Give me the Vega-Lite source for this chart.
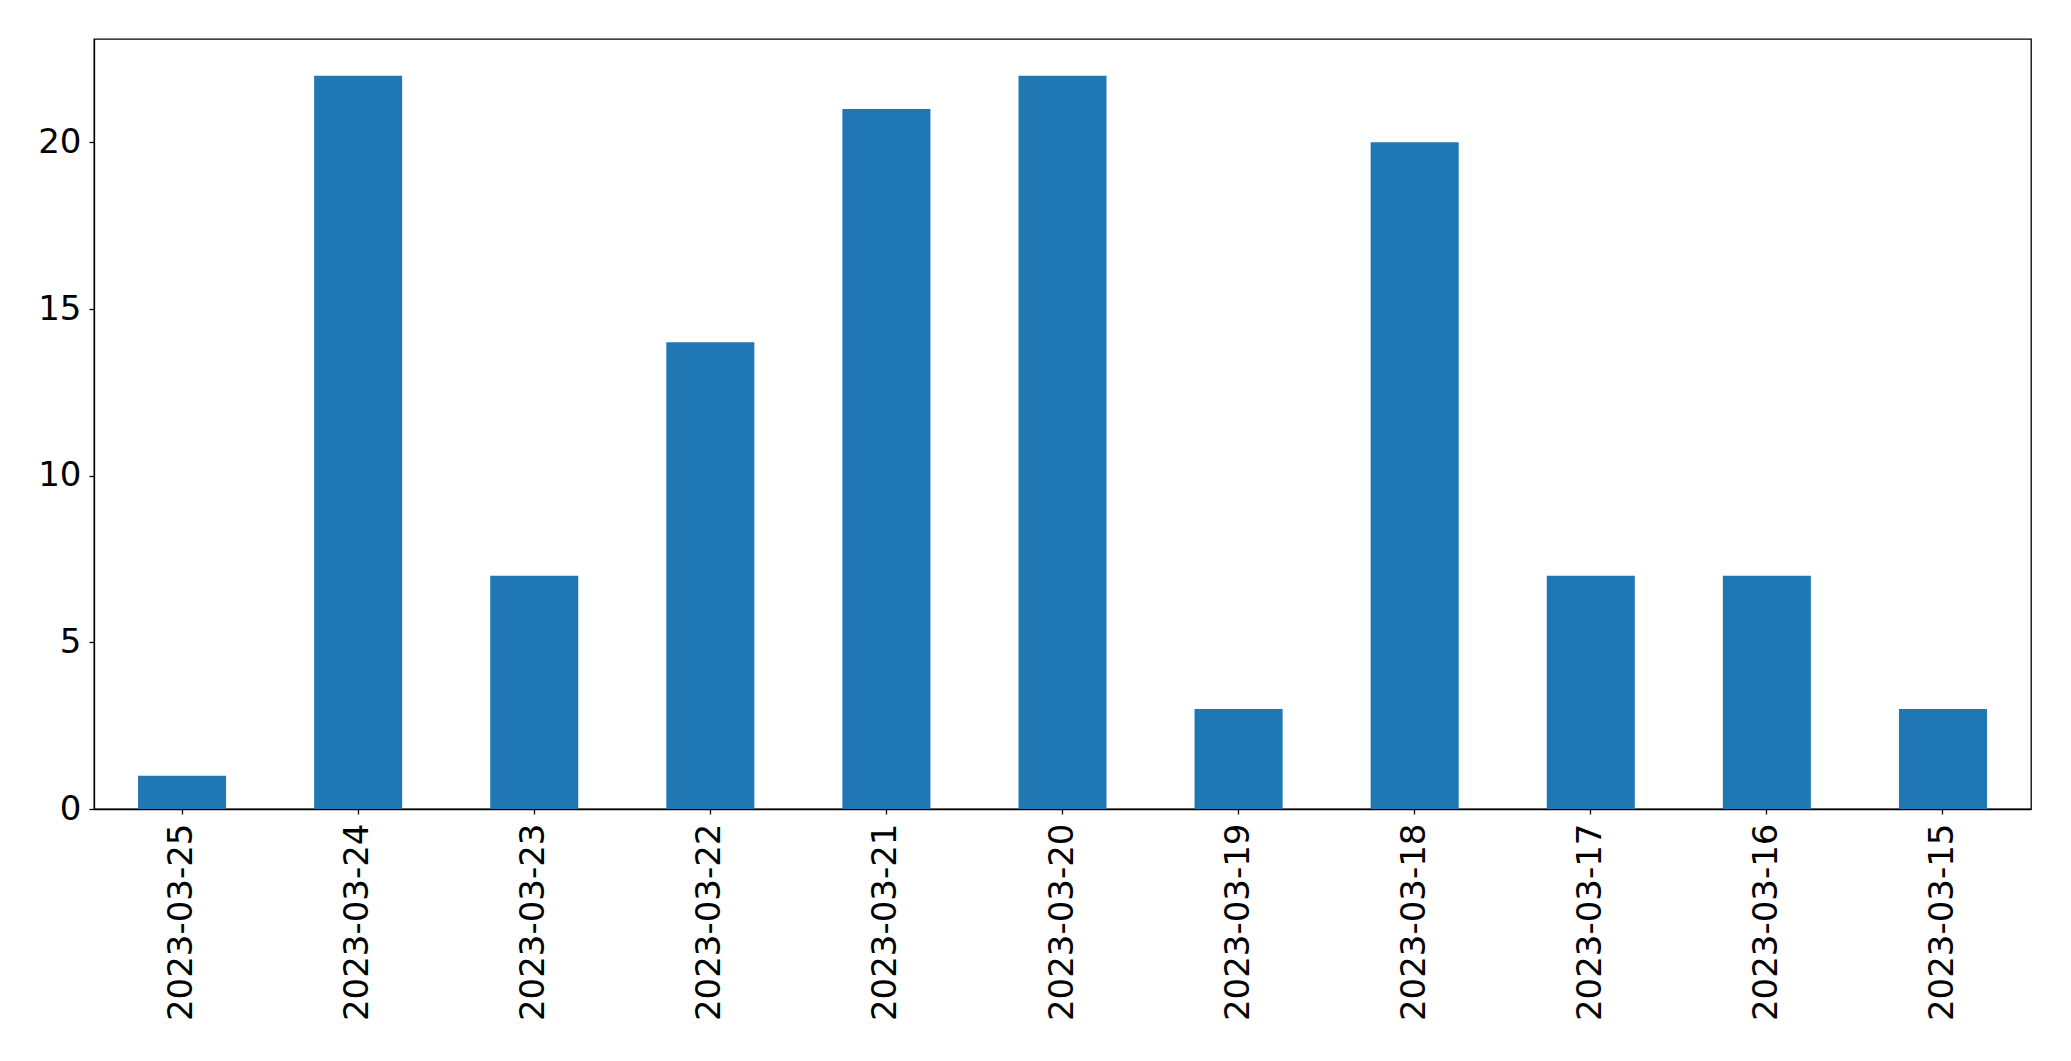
{
  "$schema": "https://vega.github.io/schema/vega-lite/v6.json",
  "autosize": {"type": "none"},
  "width": 1937,
  "height": 770,
  "padding": {"left": 94, "top": 39, "right": 40, "bottom": 252},
  "background": "white",
  "config": {
    "view": {"stroke": "black", "strokeWidth": 1.3},
    "font": "DejaVu Sans"
  },
  "data": {
    "values": [
      {"date": "2023-03-25", "count": 1},
      {"date": "2023-03-24", "count": 22},
      {"date": "2023-03-23", "count": 7},
      {"date": "2023-03-22", "count": 14},
      {"date": "2023-03-21", "count": 21},
      {"date": "2023-03-20", "count": 22},
      {"date": "2023-03-19", "count": 3},
      {"date": "2023-03-18", "count": 20},
      {"date": "2023-03-17", "count": 7},
      {"date": "2023-03-16", "count": 7},
      {"date": "2023-03-15", "count": 3}
    ]
  },
  "mark": {"type": "bar", "color": "#1f77b4"},
  "encoding": {
    "x": {
      "field": "date",
      "type": "nominal",
      "sort": null,
      "scale": {"paddingInner": 0.5, "paddingOuter": 0.25},
      "axis": {
        "title": null,
        "labelAngle": -90,
        "labelAlign": "right",
        "labelBaseline": "middle",
        "labelFontSize": 34,
        "labelLimit": 0,
        "labelColor": "black",
        "labelPadding": 9,
        "tickSize": 5,
        "tickColor": "black",
        "tickWidth": 1.3,
        "domainColor": "black",
        "domainWidth": 1.3
      }
    },
    "y": {
      "field": "count",
      "type": "quantitative",
      "scale": {"domain": [0, 23.1], "nice": false},
      "axis": {
        "title": null,
        "grid": false,
        "values": [0, 5, 10, 15, 20],
        "labelFontSize": 34,
        "labelColor": "black",
        "labelPadding": 8,
        "tickSize": 5,
        "tickColor": "black",
        "tickWidth": 1.3,
        "domainColor": "black",
        "domainWidth": 1.3
      }
    }
  }
}
